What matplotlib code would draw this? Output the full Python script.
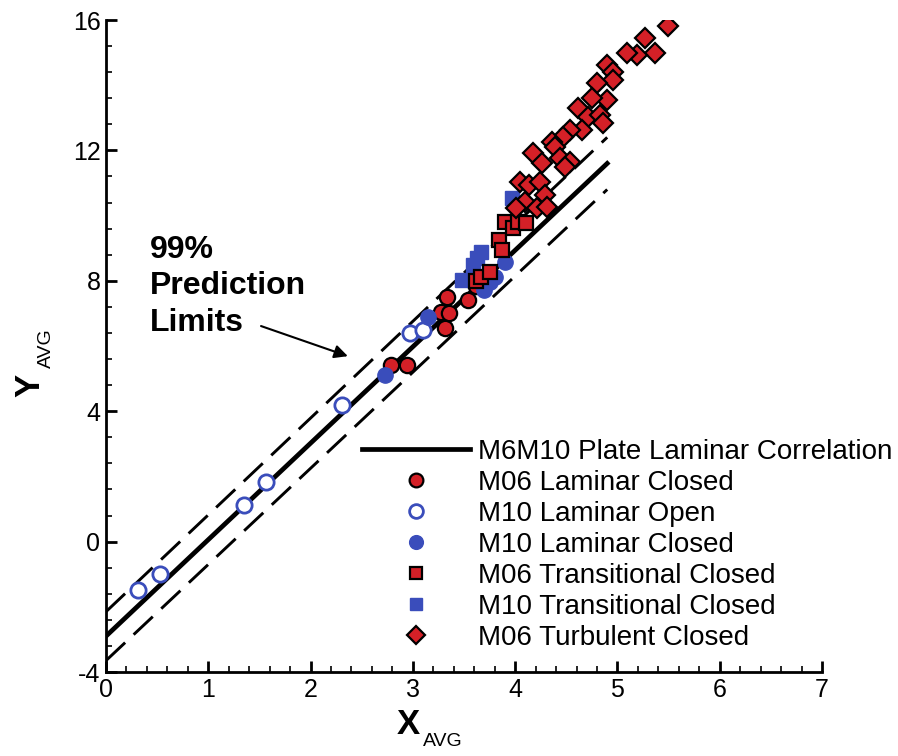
import numpy as np
import matplotlib
matplotlib.use("Agg")
import matplotlib.pyplot as plt

plt.rcParams['font.family'] = ['Liberation Sans', 'DejaVu Sans']
plt.rcParams['axes.unicode_minus'] = False

RED = '#d42027'
BLUE = '#3a4dbb'

# laminar correlation and its 99% prediction band (end points)
corr_x = [0.0, 4.9]
corr_y = [-2.9, 11.6]
upper_y = [-2.15, 12.4]
lower_y = [-3.65, 10.8]

# M06 laminar, closed
m06_lam_x = [2.79, 2.94, 3.28, 3.31, 3.33, 3.35, 3.54, 3.62]
m06_lam_y = [5.42, 5.42, 7.05, 6.54, 7.51, 7.00, 7.41, 7.85]

# M10 laminar, open
m10_open_x = [0.31, 0.53, 1.35, 1.56, 2.31, 2.97, 3.10]
m10_open_y = [-1.48, -1.00, 1.12, 1.83, 4.19, 6.39, 6.49]

# M10 laminar, closed
m10_lam_x = [2.73, 3.15, 3.70, 3.75, 3.80, 3.90]
m10_lam_y = [5.10, 6.90, 7.72, 7.95, 8.13, 8.59]

# M06 transitional, closed
m06_tr_x = [3.62, 3.67, 3.75, 3.84, 3.87, 3.90, 3.98, 4.03, 4.11]
m06_tr_y = [7.98, 8.13, 8.28, 9.25, 8.94, 9.81, 9.61, 9.81, 9.76]

# M10 transitional, closed
m10_tr_x = [3.48, 3.59, 3.63, 3.67, 3.97]
m10_tr_y = [8.02, 8.48, 8.70, 8.89, 10.53]

# M06 turbulent, closed
m06_turb_x = [5.49, 5.27, 5.37, 5.19, 5.09, 4.90, 4.96, 4.96, 4.80, 4.90,
              4.75, 4.61, 4.71, 4.83, 4.86, 4.65, 4.54, 4.47, 4.36, 4.39,
              4.17, 4.26, 4.44, 4.54, 4.49, 4.05, 4.14, 4.24, 4.29, 4.10,
              4.21, 4.31, 4.01]
m06_turb_y = [15.82, 15.45, 14.99, 14.93, 14.99, 14.62, 14.40, 14.16, 14.07, 13.55,
              13.60, 13.30, 13.02, 13.09, 12.84, 12.63, 12.63, 12.41, 12.26, 12.10,
              11.92, 11.61, 11.77, 11.64, 11.49, 11.03, 10.94, 11.03, 10.63, 10.42,
              10.23, 10.26, 10.23]

fig = plt.figure(figsize=(8.98, 7.56), dpi=100)
ax = fig.add_axes([106 / 898, 1 - 672 / 756, 716 / 898, 652 / 756])

line_corr, = ax.plot(corr_x, corr_y, color='black', lw=3.4, zorder=2)
ax.plot(corr_x, upper_y, color='black', lw=2.1, dashes=(9, 4), zorder=2)
ax.plot(corr_x, lower_y, color='black', lw=2.1, dashes=(9, 4), zorder=2)

h_m06_lam, = ax.plot(m06_lam_x, m06_lam_y, 'o', ms=11, mfc=RED, mec='black', mew=1.6, zorder=3)
h_m10_open, = ax.plot(m10_open_x, m10_open_y, 'o', ms=11, mfc='white', mec=BLUE, mew=2.0, zorder=3)
h_m10_lam, = ax.plot(m10_lam_x, m10_lam_y, 'o', ms=11, mfc=BLUE, mec=BLUE, mew=1.0, zorder=3)
h_m06_tr, = ax.plot(m06_tr_x, m06_tr_y, 's', ms=10, mfc=RED, mec='black', mew=1.6, zorder=4)
h_m10_tr, = ax.plot(m10_tr_x, m10_tr_y, 's', ms=9.5, mfc=BLUE, mec=BLUE, mew=1.0, zorder=3)
h_m06_turb, = ax.plot(m06_turb_x, m06_turb_y, 'D', ms=10.5, mfc=RED, mec='black', mew=1.6, zorder=4)

ax.set_xlim(0, 7)
ax.set_ylim(-4, 16)
ax.set_xticks(np.arange(0, 8, 1))
ax.set_xticks(np.arange(0, 7.01, 0.2), minor=True)
ax.set_yticks(np.arange(-4, 17, 4))
ax.set_yticks(np.arange(-4, 16.01, 0.8), minor=True)
ax.spines['top'].set_visible(False)
ax.spines['right'].set_visible(False)
for s in ('left', 'bottom'):
    ax.spines[s].set_linewidth(2.0)
ax.tick_params(which='major', direction='in', length=8, width=2.0, labelsize=18, pad=4)
ax.tick_params(which='minor', direction='in', length=4, width=1.2)

# axis titles with subscripts
fig.text(408 / 898, 1 - 724 / 756, 'X', fontsize=25, fontweight='bold', ha='center', va='center')
fig.text(423 / 898, 1 - 742 / 756, 'AVG', fontsize=14, ha='left', va='center')
fig.text(30 / 898, 1 - 385 / 756, 'Y', fontsize=25, fontweight='bold', rotation=90, ha='center', va='center')
fig.text(46 / 898, 1 - 348 / 756, 'AVG', fontsize=14, rotation=90, ha='center', va='center')

ax.text(0.43, 9.4, '99%\nPrediction\nLimits', fontsize=23, fontweight='bold',
        ha='left', va='top', linespacing=1.27)
ax.annotate('', xy=(2.39, 5.66), xytext=(1.49, 6.64),
            arrowprops=dict(arrowstyle='-|>', color='black', lw=1.5, mutation_scale=20))

ax.legend([line_corr, h_m06_lam, h_m10_open, h_m10_lam, h_m06_tr, h_m10_tr, h_m06_turb],
          ['M6M10 Plate Laminar Correlation', 'M06 Laminar Closed', 'M10 Laminar Open',
           'M10 Laminar Closed', 'M06 Transitional Closed', 'M10 Transitional Closed',
           'M06 Turbulent Closed'],
          loc='upper left', bbox_to_anchor=(362 / 898, 1 - 439 / 756),
          bbox_transform=fig.transFigure, frameon=False, fontsize=20,
          handlelength=3.9, handletextpad=0.29, labelspacing=0.18,
          borderpad=0, borderaxespad=0, markerscale=0.9)

fig.savefig('out.png', dpi=100)
